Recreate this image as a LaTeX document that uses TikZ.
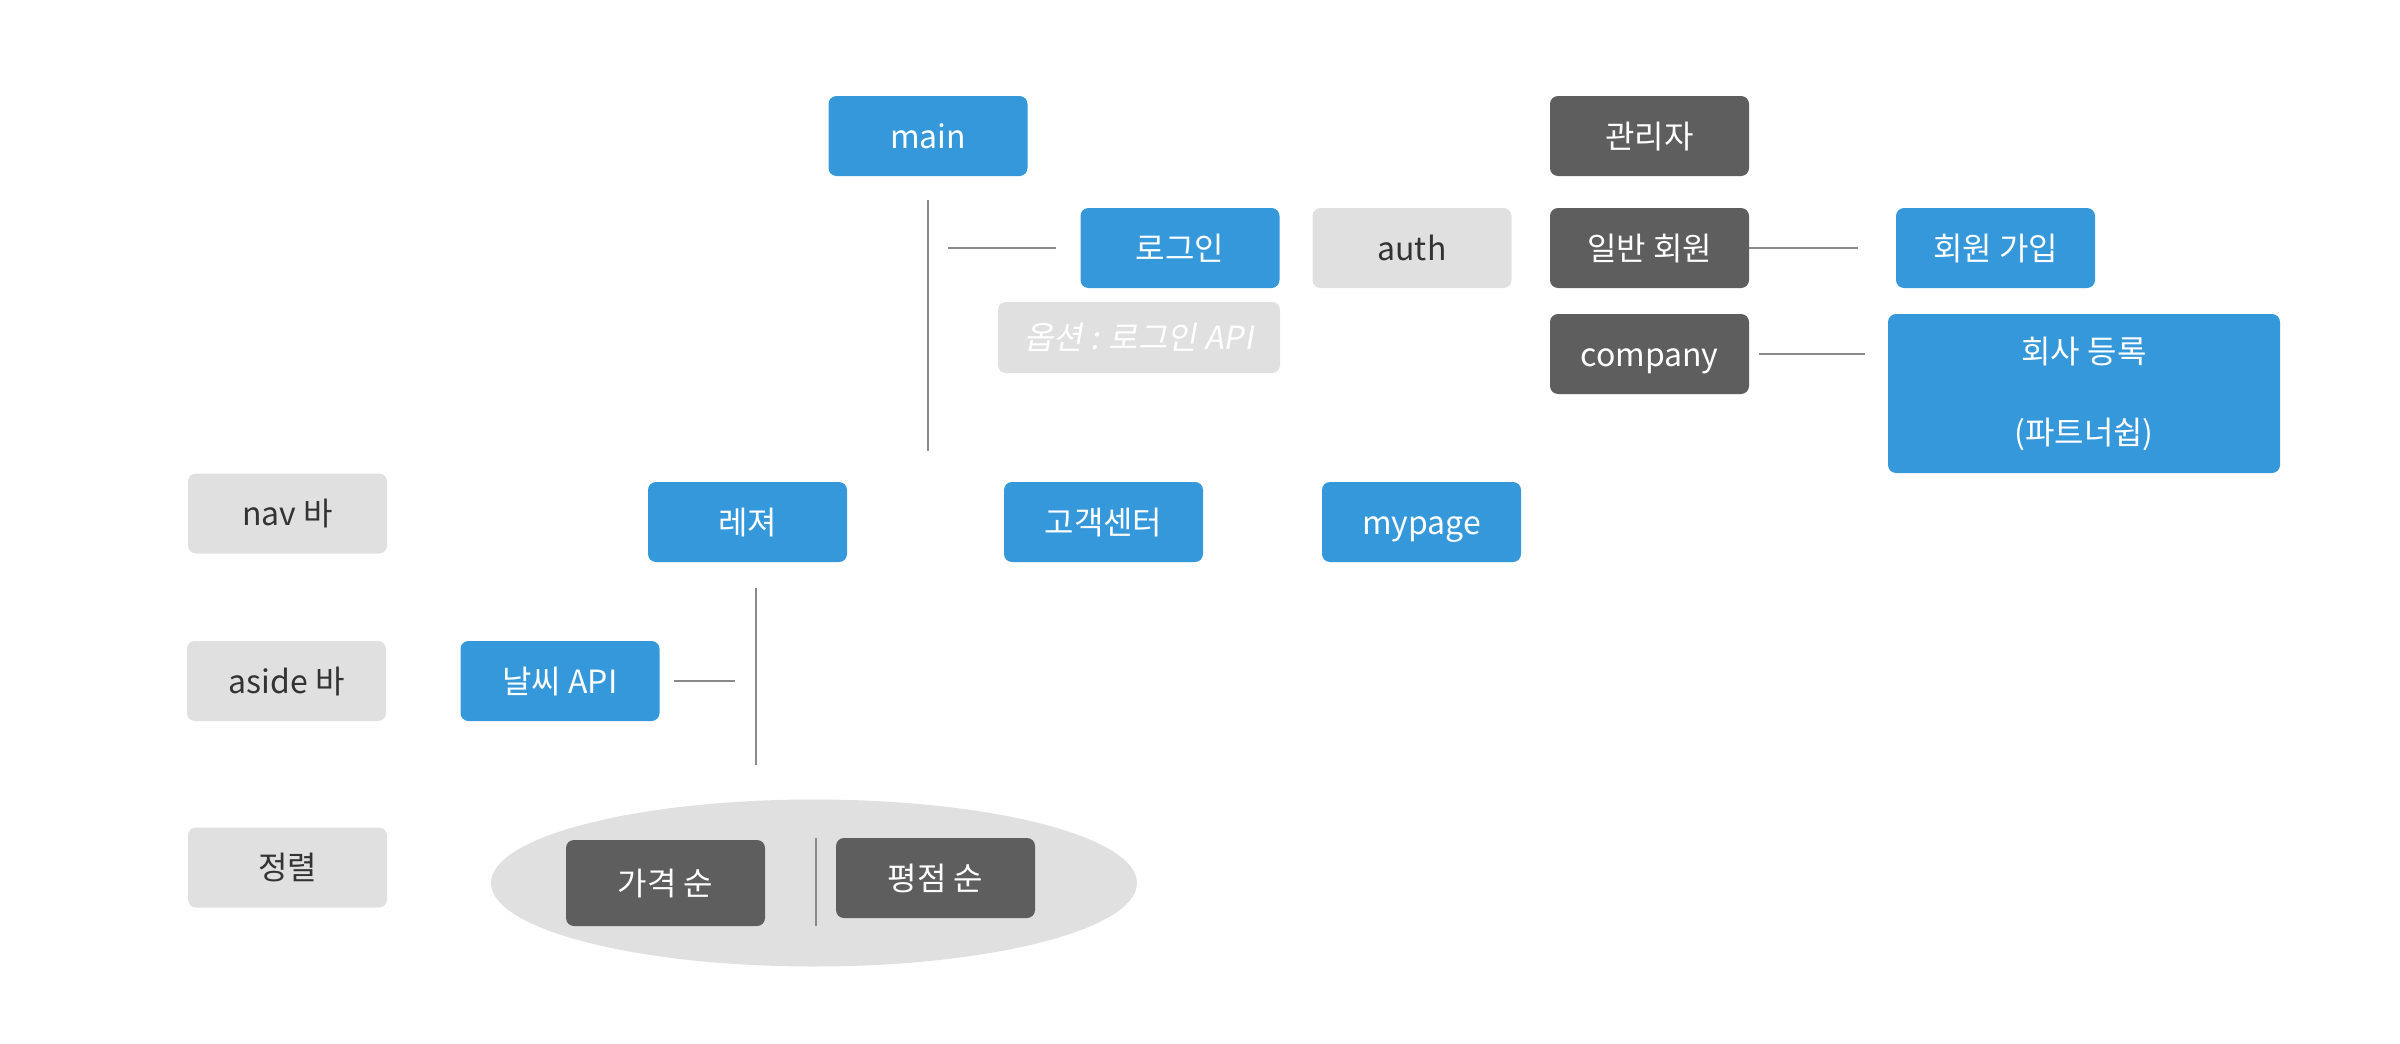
\documentclass[tikz,border=0pt]{standalone}
\usepackage{fontspec}
\setmainfont{Noto Sans CJK KR}
\newfontfamily\slantfont[FakeSlant=0.18]{Noto Sans CJK KR}
\usepackage{tikz}
\usetikzlibrary{shapes.geometric}

\definecolor{boxblue}{HTML}{3598DB}
\definecolor{boxdark}{HTML}{5E5E5E}
\definecolor{boxlight}{HTML}{E0E0E0}
\definecolor{linegray}{HTML}{8A8A8A}
\definecolor{textdark}{HTML}{333333}

\tikzset{
	page/.style={rectangle, rounded corners=4pt, minimum width=99.5pt, minimum height=40pt, inner sep=0pt,
		text height=13pt, text depth=1pt, font=\fontsize{16}{19}\selectfont},
	bluebox/.style={page, fill=boxblue, text=white},
	darkbox/.style={page, fill=boxdark, text=white},
	graybox/.style={page, fill=boxlight, text=textdark},
	link/.style={draw=linegray, line width=1pt}
}

\begin{document}
\begin{tikzpicture}[x=0.5pt,y=-0.5pt]
		\useasboundingbox (0,0) rectangle (2400,1044);

		\node[bluebox] (Main) at (928,136) {main};
		\node[bluebox] (Login) at (1180,248) {로그인};
		\node[graybox, node distance=116pt] (Auth) [right of=Login] {auth};
		\node[darkbox, node distance=118.75pt] (Member) [right of=Auth] {일반 회원};
		\node[darkbox, node distance=56pt] (Admin) [above of=Member] {관리자};
		\node[darkbox, node distance=53pt] (Company) [below of=Member] {company};
		\node[bluebox, node distance=173pt] (Join) [right of=Member] {회원 가입};
		\node[bluebox, minimum width=196pt, minimum height=79.5pt, text height=, text depth=, align=center] (Partner) at (2084,393.5)
			{회사 등록\\[21.5pt](파트너쉽)};
		\node[graybox, minimum width=141pt, minimum height=35.5pt, text=white, font=\fontsize{16}{19}\slantfont] (Option) at (1139,337.5)
			{옵션 : 로그인 API};

		\node[graybox] (Nav) at (287.5,513.5) {nav 바};
		\node[bluebox] (Leisure) at (747.5,522) {레져};
		\node[bluebox, node distance=178pt] (Help) [right of=Leisure] {고객센터};
		\node[bluebox, node distance=159pt] (MyPage) [right of=Help] {mypage};

		\node[graybox] (Aside) at (286.5,681) {aside 바};
		\node[bluebox] (Weather) at (560,681) {날씨 API};

		\node[graybox] (Sort) at (287.5,867.5) {정렬};
		\node[ellipse, fill=boxlight, minimum width=323pt, minimum height=83.5pt] (Group) at (814,883) {};
		\node[darkbox, minimum height=43pt] (Price) at (665.5,883) {가격 순};
		\node[darkbox] (Rating) at (935.5,878) {평점 순};

		\coordinate (T1) at (928,451);
		\coordinate (T2) at (948,248);
		\coordinate (B1) at (756,588);
		\coordinate (B2) at (756,765);
		\coordinate (B3) at (735,681);
		\coordinate (D1) at (816,838);
		\coordinate (D2) at (816,926);

		\draw[link, shorten <=12pt] (Main) -- (T1);
		\draw[link, shorten >=12pt] (T2) -- (Login);
		\draw[link, shorten >=19pt] (Member) -- (Join);
		\draw[link, shorten <=5pt, shorten >=11.5pt] (Company.east) -- (Company.east -| Partner.west);
		\draw[link] (B1) -- (B2);
		\draw[link, shorten <=7pt] (Weather) -- (B3);
		\draw[link] (D1) -- (D2);
	\end{tikzpicture}
\end{document}
